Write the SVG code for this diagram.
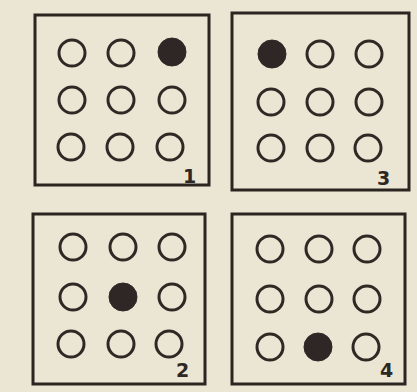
<svg xmlns="http://www.w3.org/2000/svg" width="417" height="392" viewBox="0 0 417 392">
<style>
.box{fill:none;stroke:#2b2521;stroke-width:3}
.o{fill:none;stroke:#2f2925;stroke-width:3}
.f{fill:#2e2726;stroke:#2e2726;stroke-width:1}
.lbl{font-family:"DejaVu Sans","Liberation Sans",sans-serif;font-weight:bold;font-size:19px;fill:#2e2824}
</style>
<rect width="417" height="392" fill="#ebe5d3"/>
<g id="panel1">
<rect class="box" x="35" y="15" width="174" height="170"/>
<circle class="o" cx="72" cy="53" r="13"/><circle class="o" cx="121" cy="53" r="13"/><circle class="f" cx="172" cy="52" r="14"/>
<circle class="o" cx="72" cy="100" r="13"/><circle class="o" cx="121" cy="100" r="13"/><circle class="o" cx="172" cy="100" r="13"/>
<circle class="o" cx="71" cy="147" r="13"/><circle class="o" cx="120" cy="147" r="13"/><circle class="o" cx="170" cy="147" r="13"/>
<text class="lbl" x="183" y="183">1</text>
</g>
<g id="panel3">
<rect class="box" x="232" y="13" width="177" height="177"/>
<circle class="f" cx="272" cy="54" r="14"/><circle class="o" cx="320" cy="54" r="13"/><circle class="o" cx="369" cy="54" r="13"/>
<circle class="o" cx="271" cy="102" r="13"/><circle class="o" cx="320" cy="102" r="13"/><circle class="o" cx="369" cy="102" r="13"/>
<circle class="o" cx="271" cy="148" r="13"/><circle class="o" cx="320" cy="148" r="13"/><circle class="o" cx="368" cy="148" r="13"/>
<text class="lbl" x="377" y="185">3</text>
</g>
<g id="panel2">
<rect class="box" x="33" y="214" width="172" height="170"/>
<circle class="o" cx="73" cy="247" r="13"/><circle class="o" cx="123" cy="247" r="13"/><circle class="o" cx="172" cy="247" r="13"/>
<circle class="o" cx="73" cy="297" r="13"/><circle class="f" cx="123" cy="297" r="14"/><circle class="o" cx="172" cy="297" r="13"/>
<circle class="o" cx="71" cy="344" r="13"/><circle class="o" cx="121" cy="344" r="13"/><circle class="o" cx="169" cy="344" r="13"/>
<text class="lbl" x="176" y="377">2</text>
</g>
<g id="panel4">
<rect class="box" x="232" y="214" width="173" height="170"/>
<circle class="o" cx="270" cy="249" r="13"/><circle class="o" cx="319" cy="249" r="13"/><circle class="o" cx="367" cy="249" r="13"/>
<circle class="o" cx="270" cy="299" r="13"/><circle class="o" cx="319" cy="299" r="13"/><circle class="o" cx="367" cy="299" r="13"/>
<circle class="o" cx="270" cy="347" r="13"/><circle class="f" cx="318" cy="347" r="14"/><circle class="o" cx="366" cy="347" r="13"/>
<text class="lbl" x="380" y="377">4</text>
</g>
</svg>
